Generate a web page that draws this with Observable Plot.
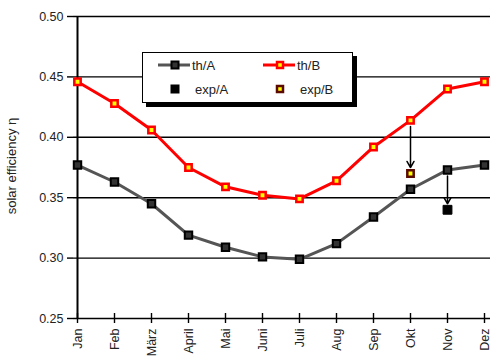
<!DOCTYPE html>
<html>
<head>
<meta charset="utf-8">
<script src="https://cdn.jsdelivr.net/npm/d3@7"></script>
<script src="https://cdn.jsdelivr.net/npm/@observablehq/plot@0.6"></script>
<style>
  html, body { margin: 0; padding: 0; background: white; }
  #chart { position: relative; width: 490px; height: 361px; }
</style>
</head>
<body>
<div id="chart"></div>
<script>
const months = ["Jan","Feb","März","April","Mai","Juni","Juli","Aug","Sep","Okt","Nov","Dez"];
const thA = [0.377,0.363,0.345,0.319,0.309,0.301,0.299,0.312,0.334,0.357,0.373,0.377];
const thB = [0.446,0.428,0.406,0.375,0.359,0.352,0.349,0.364,0.392,0.414,0.440,0.446];
const expAMonths = ["Nov"];
const expAValues = [0.340];
const expBMonths = ["Okt"];
const expBValues = [0.370];
const yTicks = [0.25,0.30,0.35,0.40,0.45,0.50];
const gridValues = [0.30,0.35,0.40,0.45,0.50];

const dataA = months.map((m,i) => ({month: m, value: thA[i]}));
const dataB = months.map((m,i) => ({month: m, value: thB[i]}));
const expA = expAMonths.map((m,i) => ({month: m, value: expAValues[i], th: thA[months.indexOf(m)]}));
const expB = expBMonths.map((m,i) => ({month: m, value: expBValues[i], th: thB[months.indexOf(m)]}));

const plot = Plot.plot({
  width: 490, height: 361,
  marginLeft: 73, marginRight: 2, marginTop: 16, marginBottom: 43,
  style: {fontFamily: "'Liberation Sans', Arial, sans-serif", color: "#222", background: "white"},
  x: {type: "point", domain: months, padding: 0},
  y: {domain: [0.25, 0.50]},
  marks: [
    Plot.ruleY(gridValues, {stroke: "black", strokeWidth: 1.4, insetRight: -2}),
    Plot.ruleY([0.25], {stroke: "black", strokeWidth: 1.6, insetRight: -2}),
    Plot.ruleX([months[0]], {stroke: "black", strokeWidth: 2}),
    Plot.ruleX(months, {x: d => d, y1: 0.25, y2: 0.25, insetTop: -5, insetBottom: -5, stroke: "black", strokeWidth: 1.4}),
    Plot.axisY({ticks: yTicks, tickFormat: ".2f", tickSize: 6, tickPadding: 4, fontSize: 12.5, label: null, stroke: "black", strokeWidth: 1.4}),
    Plot.axisX({tickRotate: -90, tickSize: 0, tickPadding: 10, fontSize: 12.5, label: null}),
    Plot.line(dataA, {x: "month", y: "value", stroke: "#555", strokeWidth: 3}),
    Plot.line(dataB, {x: "month", y: "value", stroke: "#f00", strokeWidth: 3}),
    Plot.arrow(expB, {x1: "month", x2: "month", y1: "th", y2: "value", insetStart: 6, insetEnd: 6, headLength: 7, stroke: "black", strokeWidth: 1.5}),
    Plot.arrow(expA, {x1: "month", x2: "month", y1: "th", y2: "value", insetStart: 6, insetEnd: 6, headLength: 7, stroke: "black", strokeWidth: 1.5}),
    Plot.dot(dataA, {x: "month", y: "value", symbol: "square", r: 4.2, fill: "#333", stroke: "black", strokeWidth: 2}),
    Plot.dot(dataB, {x: "month", y: "value", symbol: "square", r: 3.6, fill: "#ff0", stroke: "#f00", strokeWidth: 2.5}),
    Plot.dot(expA, {x: "month", y: "value", symbol: "square", r: 5, fill: "black", stroke: "black", strokeWidth: 1}),
    Plot.dot(expB, {x: "month", y: "value", symbol: "square", r: 3.6, fill: "#ff0", stroke: "#5a0a00", strokeWidth: 2.5})
  ]
});
document.getElementById("chart").appendChild(plot);

// Y axis title
const svg = d3.select(plot);
svg.append("text")
  .attr("transform", "translate(16,166) rotate(-90)")
  .attr("text-anchor", "middle")
  .attr("font-size", 13)
  .attr("fill", "#222")
  .text("solar efficiency η");

// Legend box with shadow
const lg = svg.append("g");
lg.append("rect").attr("x", 146).attr("y", 56).attr("width", 211).attr("height", 51).attr("fill", "black");
lg.append("rect").attr("x", 142.5).attr("y", 52.5).attr("width", 210).attr("height", 50).attr("fill", "white").attr("stroke", "black").attr("stroke-width", 1);
const entries = [
  {label: "th/A", x: 175, y: 65, line: "#555", fill: "#333", stroke: "black", sw: 2, s: 7},
  {label: "th/B", x: 280, y: 65, line: "#f00", fill: "#ff0", stroke: "#f00", sw: 2.5, s: 6},
  {label: "exp/A", x: 175, y: 89, line: null, fill: "black", stroke: "black", sw: 1, s: 8},
  {label: "exp/B", x: 280, y: 89, line: null, fill: "#ff0", stroke: "#5a0a00", sw: 2.5, s: 6}
];
for (const e of entries) {
  if (e.line) lg.append("line").attr("x1", e.x - 17).attr("x2", e.x + 15).attr("y1", e.y).attr("y2", e.y).attr("stroke", e.line).attr("stroke-width", 3);
  lg.append("rect").attr("x", e.x - e.s/2).attr("y", e.y - e.s/2).attr("width", e.s).attr("height", e.s)
    .attr("fill", e.fill).attr("stroke", e.stroke).attr("stroke-width", e.sw);
  lg.append("text").attr("x", e.line ? e.x + 17 : e.x + 20).attr("y", e.y).attr("dy", "0.35em")
    .attr("text-anchor", "start")
    .attr("font-size", 13).attr("fill", "#222").text(e.label);
}
</script>
</body>
</html>
